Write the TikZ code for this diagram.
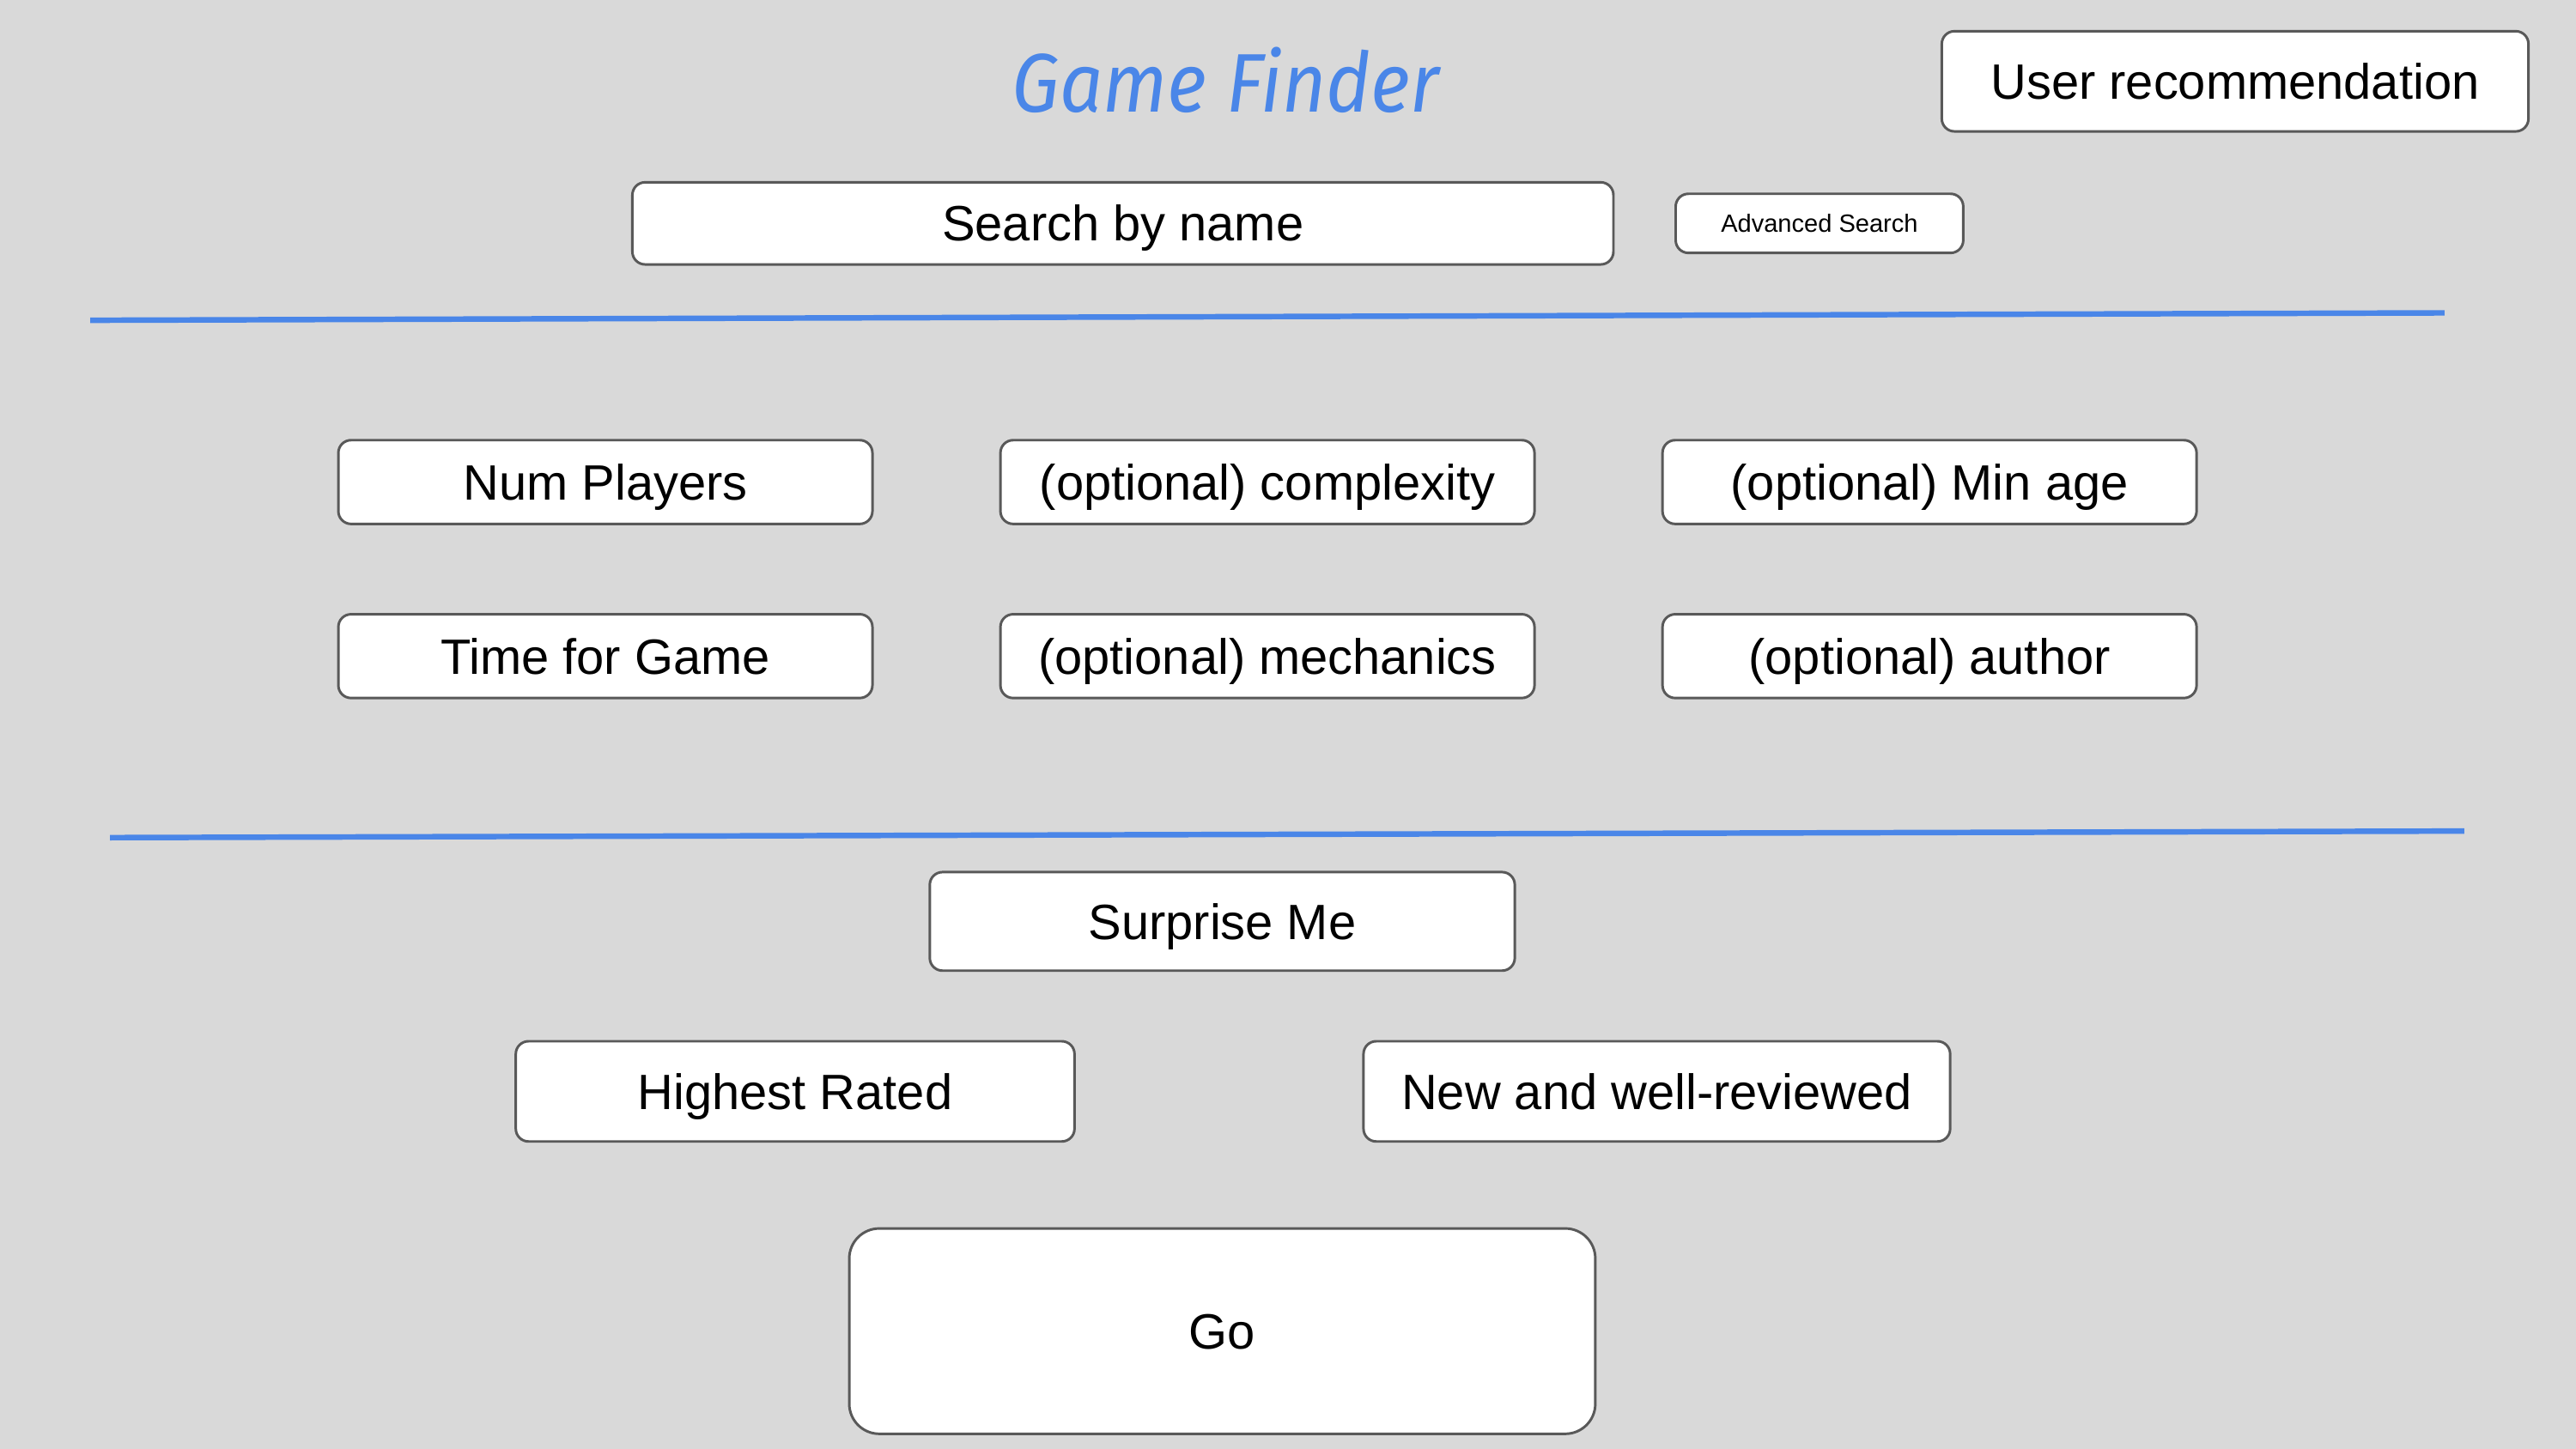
\documentclass[tikz,border=0pt]{standalone}
\usepackage{fontspec}
\setmainfont{Liberation Sans}
\newfontfamily\titlefont{Fira Sans}
\usepackage{graphicx}
\usepackage{tikz}
\usetikzlibrary{calc}
\definecolor{pagegray}{HTML}{D9D9D9}
\definecolor{rulblue}{HTML}{4A86E8}
\definecolor{edgegray}{HTML}{595959}
\tikzset{btn/.style={
    draw=edgegray,
    line width=1.1pt,
    fill=white,
    rounded corners=5.5pt,
    inner sep=0pt,
    text height=15.4pt,
    text depth=0pt,
    font=\fontsize{21.5}{24}\selectfont},
  separator/.style={
    draw=rulblue,
    line width=2.4pt}}

\begin{document}
\begin{tikzpicture}[x=0.025cm,y=-0.025cm]
	\fill[pagegray] (0,0) rectangle (1568,882);
\useasboundingbox (0,0) rectangle (1568,882);

\node[text=rulblue, font=\titlefont\itshape\fontsize{36}{40}\selectfont] (title) at (746,49) {\scalebox{0.915}[1]{Game Finder}};
\node[btn, minimum width=8.925cm, minimum height=1.525cm] (userrec) at (1360.5,49.5) {User recommendation};

\node[btn, minimum width=14.925cm, minimum height=1.25cm] (search) at (683.5,136) {Search by name};
\node[btn, minimum width=4.375cm, minimum height=0.9cm, text height=7.7pt, font=\fontsize{10.8}{12}\selectfont] (advanced) at (1107.5,136) {Advanced Search};

\coordinate (L1) at (55,195);
\coordinate (R1) at (1488,190.5);
\path[separator] (L1) -- (R1);

	% filters
	\node[btn, minimum width=8.125cm, minimum height=1.275cm] (players) at (368.5,293.5) {Num Players};
	\node[btn, minimum width=8.125cm, minimum height=1.275cm] (complexity) at (771.5,293.5) {(optional) complexity};
	\node[btn, minimum width=8.125cm, minimum height=1.275cm] (minage) at (1174.5,293.5) {(optional) Min age};
	\node[btn, minimum width=8.125cm, minimum height=1.275cm] (time) at (368.5,399.5) {Time for Game};
	\node[btn, minimum width=8.125cm, minimum height=1.275cm] (mechanics) at (771.5,399.5) {(optional) mechanics};
	\node[btn, minimum width=8.125cm, minimum height=1.275cm] (author) at (1174.5,399.5) {(optional) author};

\coordinate (L2) at (67,510);
\coordinate (R2) at (1500,506);
\path[separator] (L2) -- (R2);

	\node[btn, minimum width=8.9cm, minimum height=1.5cm] (surprise) at (744,561) {Surprise Me};
	\node[btn, minimum width=8.5cm, minimum height=1.525cm] (highest) at (484,664.5) {Highest Rated};
	\node[btn, minimum width=8.925cm, minimum height=1.525cm] (newrev) at (1008.5,664.5) {New and well-reviewed};
	\node[btn, minimum width=11.35cm, minimum height=3.125cm, rounded corners=13pt] (go) at (744,810.5) {Go};
  
\end{tikzpicture}
\end{document}
